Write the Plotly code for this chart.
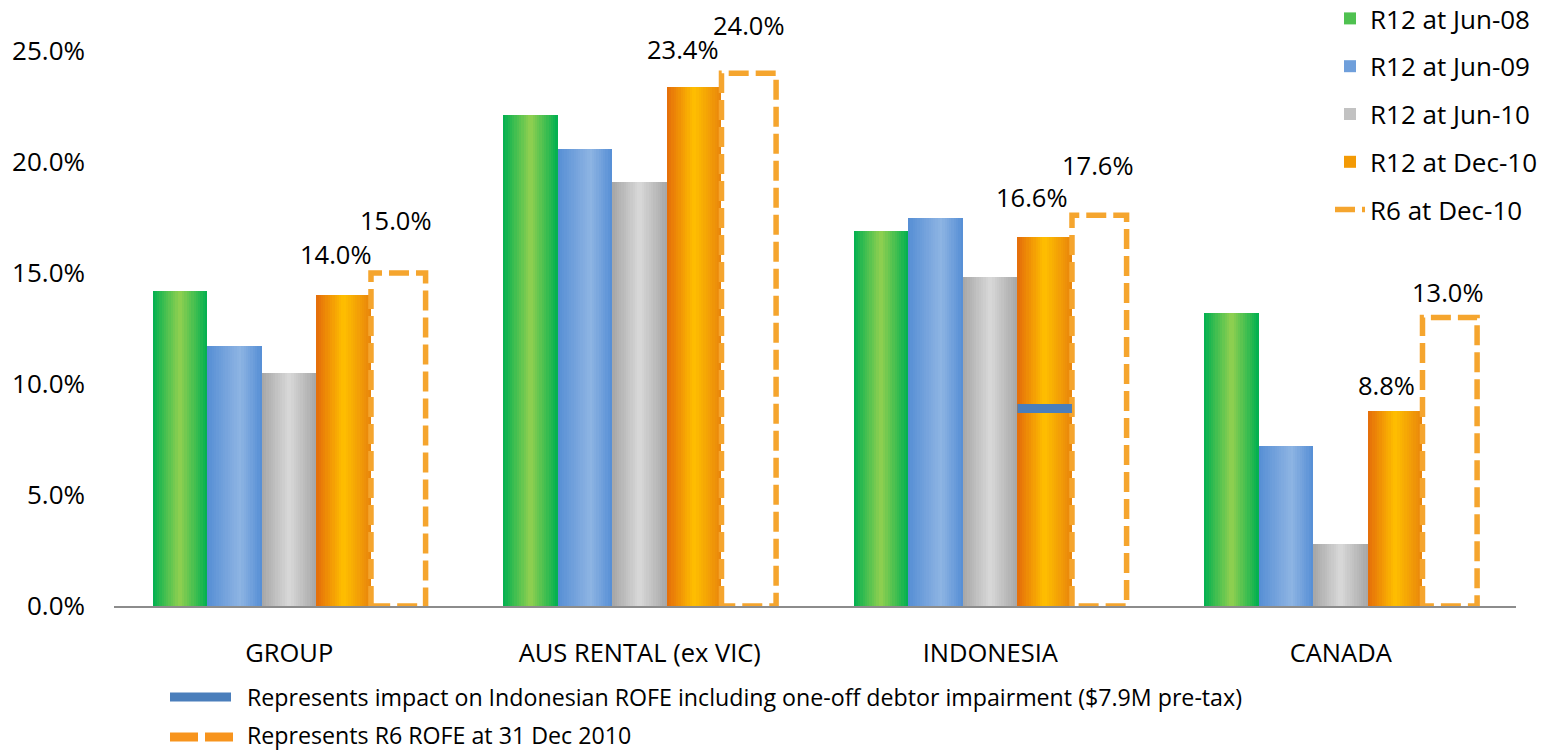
import plotly.graph_objects as go

# ---- data -------------------------------------------------------------
categories = ["GROUP", "AUS RENTAL (ex VIC)", "INDONESIA", "CANADA"]
series_names = ["R12 at Jun-08", "R12 at Jun-09", "R12 at Jun-10", "R12 at Dec-10"]
r12_jun08 = [14.2, 22.1, 16.9, 13.2]
r12_jun09 = [11.7, 20.6, 17.5, 7.2]
r12_jun10 = [10.5, 19.1, 14.8, 2.8]
r12_dec10 = [14.0, 23.4, 16.6, 8.8]
r6_dec10 = [15.0, 24.0, 17.6, 13.0]
r6_name = "R6 at Dec-10"
indonesia_impact = 8.9          # Indonesian ROFE incl. one-off debtor impairment
y_ticks = [0, 5, 10, 15, 20, 25]
note_impact = "Represents impact on Indonesian ROFE including one-off debtor impairment ($7.9M pre-tax)"
note_r6 = "Represents R6 ROFE at 31 Dec 2010"

# ---- styling ----------------------------------------------------------
FONT = "Open Sans"
FS = 25.5
gradients = [
    [(0.0, "#00B050"), (0.5, "#92D050"), (1.0, "#00B050")],
    [(0.0, "#558ED5"), (0.6, "#8EB4E3"), (1.0, "#558ED5")],
    [(0.0, "#A6A6A6"), (0.5, "#D9D9D9"), (1.0, "#A6A6A6")],
    [(0.0, "#E46C0A"), (0.5, "#FFC000"), (1.0, "#E8830C")],
]
R6_COLOR = "#F5A52E"
IMPACT_COLOR = "#4A7EBB"

BAR_W = 0.1558
GROUP_START = -0.39
N_STRIPES = 24

# plot area in pixels (used to place the notes under the chart)
W, H = 1546, 751
L, R, T, B = 114, 1516, 51, 606


def hex_to_rgb(h):
    h = h.lstrip("#")
    return tuple(int(h[i:i + 2], 16) for i in (0, 2, 4))


def interp(stops, t):
    for (t0, c0), (t1, c1) in zip(stops[:-1], stops[1:]):
        if t0 <= t <= t1:
            f = (t - t0) / (t1 - t0) if t1 > t0 else 0
            a, b = hex_to_rgb(c0), hex_to_rgb(c1)
            rgb = [round(a[i] + (b[i] - a[i]) * f) for i in range(3)]
            return "rgb({},{},{})".format(*rgb)
    return stops[-1][1]


def px_x(p):
    return (p - L) / (R - L)


def px_y(p):
    return (B - p) / (B - T)


x_pos = list(range(len(categories)))
fig = go.Figure()

# gradient-shaded bars, each built from thin vertical stripes
all_series = [r12_jun08, r12_jun09, r12_jun10, r12_dec10]
sw = BAR_W / N_STRIPES
for s, (vals, name, stops) in enumerate(zip(all_series, series_names, gradients)):
    bar_left = GROUP_START + s * BAR_W
    for k in range(N_STRIPES):
        off = bar_left + k * sw
        width = min(sw * 1.6, bar_left + BAR_W - off)
        legend_stripe = (k == N_STRIPES // 4)
        fig.add_trace(go.Bar(
            x=x_pos, y=vals, offset=off, width=width,
            marker=dict(color=interp(stops, (k + 0.5) / N_STRIPES), line=dict(width=0)),
            name=name, legendgroup=name, showlegend=legend_stripe,
            legendrank=s + 1, hoverinfo="skip" if not legend_stripe else None,
        ))

# R6 values drawn as dashed outlined bars
r6_left = GROUP_START + 4 * BAR_W
r6_right = r6_left + BAR_W
rx, ry = [], []
for i, v in zip(x_pos, r6_dec10):
    rx += [i + r6_left, i + r6_left, i + r6_right, i + r6_right, i + r6_left, None]
    ry += [0, v, v, 0, 0, None]
fig.add_trace(go.Scatter(
    x=rx, y=ry, mode="lines", name=r6_name, legendgroup=r6_name, legendrank=5,
    line=dict(color=R6_COLOR, width=5.5, dash="20px,7px"),
))

# Indonesian impact marker across the Dec-10 bar
dec_left = GROUP_START + 3 * BAR_W
ind = categories.index("INDONESIA")
fig.add_trace(go.Scatter(
    x=[ind + dec_left, ind + dec_left + BAR_W], y=[indonesia_impact] * 2,
    mode="lines", line=dict(color=IMPACT_COLOR, width=9), showlegend=False,
))

# value labels
dec_shift = [41, 38, 40, 26]
dec_xshift = [-8, -11, -13, -9]
r6_shift = [53, 48, 50, 25]
r6_xshift = [-2, 0, -1, -2]
for i in x_pos:
    fig.add_annotation(x=i + dec_left + BAR_W / 2, y=r12_dec10[i], text=f"{r12_dec10[i]:.1f}%",
                       showarrow=False, yanchor="middle", yshift=dec_shift[i], xshift=dec_xshift[i],
                       font=dict(family=FONT, size=FS, color="#000000"))
    fig.add_annotation(x=i + r6_left + BAR_W / 2, y=r6_dec10[i], text=f"{r6_dec10[i]:.1f}%",
                       showarrow=False, yanchor="middle", yshift=r6_shift[i], xshift=r6_xshift[i],
                       font=dict(family=FONT, size=FS, color="#000000"))

# notes under the chart
fig.add_shape(type="line", xref="paper", yref="paper", x0=px_x(170), x1=px_x(231),
              y0=px_y(697), y1=px_y(697), line=dict(color=IMPACT_COLOR, width=9))
for a, b in [(170, 198), (205, 233)]:
    fig.add_shape(type="line", xref="paper", yref="paper", x0=px_x(a), x1=px_x(b),
                  y0=px_y(737), y1=px_y(737), line=dict(color="#F7941D", width=9))
for text, yy in [(note_impact, 697), (note_r6, 735)]:
    fig.add_annotation(xref="paper", yref="paper", x=px_x(246), y=px_y(yy), text=text,
                       showarrow=False, xanchor="left", yanchor="middle", borderpad=0,
                       font=dict(family=FONT, size=23.2, color="#000000"))

fig.update_layout(
    width=W, height=H,
    margin=dict(l=L, r=W - R, t=T, b=H - B, autoexpand=False),
    paper_bgcolor="white", plot_bgcolor="white",
    barmode="overlay", bargap=0,
    font=dict(family=FONT, size=FS, color="#000000"),
    legend=dict(x=px_x(1330), y=px_y(-5), xanchor="left", yanchor="top",
                bgcolor="rgba(0,0,0,0)", tracegroupgap=11,
                font=dict(family=FONT, size=26, color="#000000")),
    xaxis=dict(range=[-0.5, 3.5], tickvals=x_pos, ticktext=categories,
               showgrid=False, zeroline=False, showline=True, linecolor="#8C8C8C",
               linewidth=2, ticks="", ticklabelstandoff=23,
               tickfont=dict(family=FONT, size=FS)),
    yaxis=dict(range=[0, 25], tickvals=y_ticks, ticktext=[f"{t:.1f}%" for t in y_ticks],
               showgrid=False, zeroline=False, showline=False, ticks="",
               ticklabelstandoff=28, tickfont=dict(family=FONT, size=FS + 0.5)),
    showlegend=True,
)

fig.write_html("out.html")
